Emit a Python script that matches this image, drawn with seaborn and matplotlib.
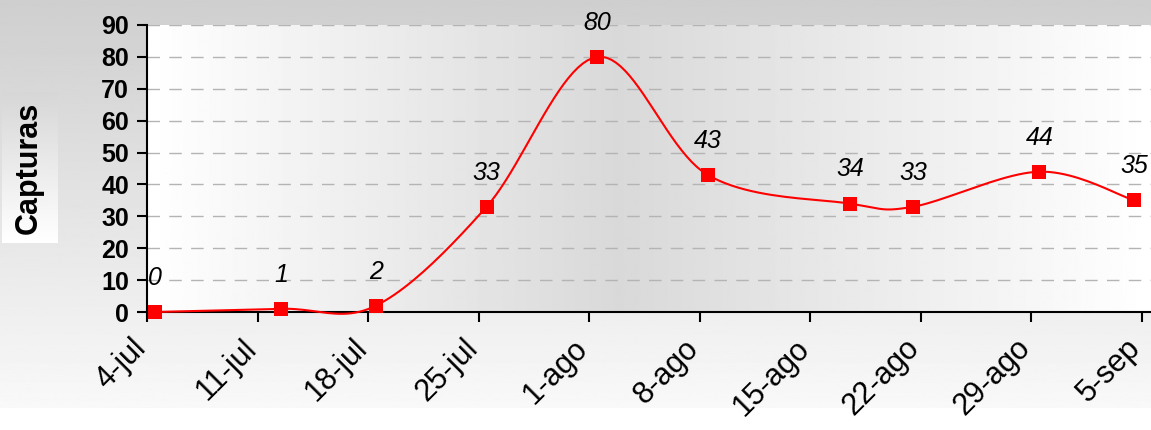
import matplotlib
import numpy as np
import pandas as pd
import seaborn as sns

matplotlib.use("Agg")

import matplotlib.dates as mdates
import matplotlib.pyplot as plt

# weekly trap captures
fechas = ["2010-07-04", "2010-07-12", "2010-07-18", "2010-07-25", "2010-08-01",
          "2010-08-08", "2010-08-17", "2010-08-21", "2010-08-29", "2010-09-04"]
capturas = [0, 1, 2, 33, 80, 43, 34, 33, 44, 35]

tick_fechas = ["2010-07-04", "2010-07-11", "2010-07-18", "2010-07-25", "2010-08-01",
               "2010-08-08", "2010-08-15", "2010-08-22", "2010-08-29", "2010-09-05"]
tick_labels = ["4-jul", "11-jul", "18-jul", "25-jul", "1-ago",
               "8-ago", "15-ago", "22-ago", "29-ago", "5-sep"]
y_ticks = [0, 10, 20, 30, 40, 50, 60, 70, 80, 90]

RED = "#ff0000"
W, H = 1151, 430


def smooth_curve(x, y, steps=24):
    # excel style smoothed line (catmull-rom as cubic bezier)
    px = np.concatenate([[x[0]], x, [x[-1]]])
    py = np.concatenate([[y[0]], y, [y[-1]]])
    xs, ys = [], []
    t = np.linspace(0, 1, steps)
    for i in range(1, len(px) - 2):
        p0 = np.array([px[i], py[i]])
        p3 = np.array([px[i + 1], py[i + 1]])
        p1 = p0 + (p3 - np.array([px[i - 1], py[i - 1]])) / 6
        p2 = p3 - (np.array([px[i + 2], py[i + 2]]) - p0) / 6
        b = ((1 - t) ** 3)[:, None] * p0 + (3 * (1 - t) ** 2 * t)[:, None] * p1 \
            + (3 * (1 - t) * t ** 2)[:, None] * p2 + (t ** 3)[:, None] * p3
        xs.extend(b[:, 0])
        ys.extend(b[:, 1])
    return np.array(xs), np.array(ys)


def main() -> None:
    sns.set_style("ticks")
    plt.rcParams["font.family"] = ["Liberation Sans", "DejaVu Sans"]
    plt.rcParams["text.color"] = "black"
    plt.rcParams["xtick.color"] = "black"
    plt.rcParams["ytick.color"] = "black"

    data = pd.DataFrame({"fecha": pd.to_datetime(fechas), "capturas": capturas})
    # excel date axis: each point sits in the middle of its day
    data["x"] = mdates.date2num(data["fecha"])
    ticks = mdates.date2num(pd.to_datetime(tick_fechas)) - 0.5

    fig = plt.figure(figsize=(W / 100, H / 100), dpi=100)
    fig.patch.set_facecolor("white")

    # chart area background, grey at the top fading to near white
    bg = fig.add_axes([0, 22 / H, 1, 1 - 22 / H], zorder=-10)
    grad = np.linspace(0.81, 0.975, 256)[:, None]
    bg.imshow(grad, cmap="gray", vmin=0, vmax=1, aspect="auto", extent=(0, 1, 0, 1))
    bg.axis("off")

    ax = fig.add_axes([147 / W, 1 - 312 / H, (W - 147) / W, (312 - 25) / H])
    ax.set_facecolor("none")
    hgrad = np.interp(np.linspace(0, 1, 512), [0, 0.47, 1], [1.0, 0.85, 1.0])[None, :]
    ax.imshow(hgrad, cmap="gray", vmin=0, vmax=1, aspect="auto",
              extent=(0, 1, 0, 1), transform=ax.transAxes, zorder=0)

    cx, cy = smooth_curve(data["x"].to_numpy(), data["capturas"].to_numpy(dtype=float))
    curve = pd.DataFrame({"x": cx, "y": cy})
    sns.lineplot(data=curve, x="x", y="y", sort=False, estimator=None, color=RED,
                 linewidth=1.5, ax=ax, zorder=3, clip_on=False)
    sns.scatterplot(data=data, x="x", y="capturas", marker="s", s=100, color=RED,
                    linewidth=0, ax=ax, zorder=4, clip_on=False)

    for _, row in data.iterrows():
        ax.annotate(f"{row['capturas']}", (row["x"], row["capturas"]),
                    xytext=(0, 19.5), textcoords="offset points", ha="center",
                    va="baseline", fontsize=18, fontstyle="italic", color="black")

    ax.set_xlim(ticks[0], ticks[-1] + 9 / 15.79)
    ax.set_ylim(0, 90)
    ax.set_xticks(ticks)
    ax.set_xticklabels(tick_labels, rotation=45, ha="right", va="baseline",
                       rotation_mode="anchor", fontsize=22, color="black")
    ax.set_yticks(y_ticks)
    ax.set_yticklabels([str(v) for v in y_ticks], fontsize=18, fontweight="bold",
                       color="black")
    ax.tick_params(axis="both", direction="out", length=7, width=1.5, color="black")
    ax.tick_params(axis="x", pad=20)
    ax.tick_params(axis="y", pad=6)
    ax.set_xlabel("")
    ax.set_ylabel("")

    ax.yaxis.grid(True, linestyle=(0, (9, 6.7)), color="#b4b4b4", linewidth=1)
    ax.xaxis.grid(False)
    for side in ["top", "right"]:
        ax.spines[side].set_visible(False)
    for side in ["left", "bottom"]:
        ax.spines[side].set_linewidth(1.5)
        ax.spines[side].set_color("black")

    # y title in its own shaded box
    box = fig.add_axes([2 / W, 1 - 243 / H, 56 / W, 151 / H])
    vgrad = np.linspace(0.84, 1.0, 256)[:, None]
    box.imshow(vgrad, cmap="gray", vmin=0, vmax=1, aspect="auto", extent=(0, 1, 0, 1))
    box.axis("off")
    box.text(0.47, 0.5, "Capturas", rotation=90, ha="center", va="center",
             fontsize=22, fontweight="bold", color="black", transform=box.transAxes)

    fig.savefig("out.png", dpi=100)
    plt.close(fig)


if __name__ == "__main__":
    main()
